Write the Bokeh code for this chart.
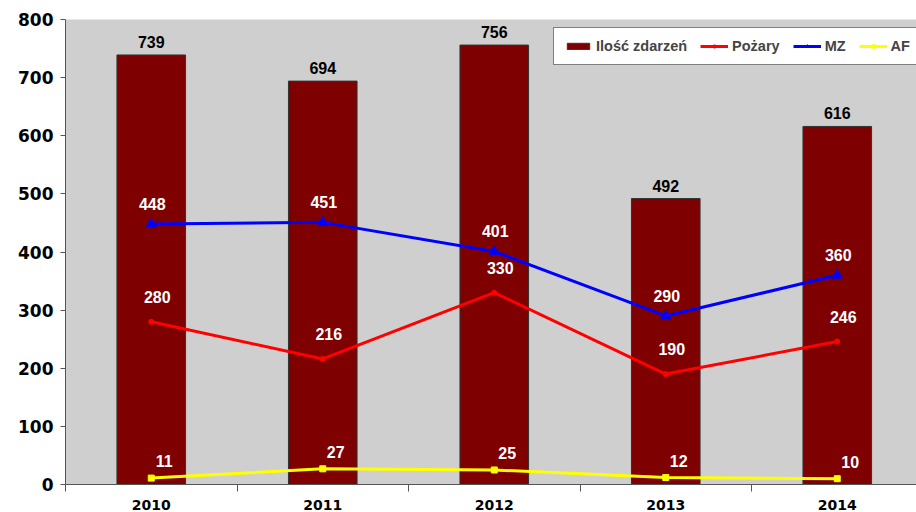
from bokeh.plotting import figure
from bokeh.models import Range1d, FixedTicker, Legend, LegendItem, ColumnDataSource
from bokeh.core.properties import value
from bokeh.embed import file_html
from bokeh.resources import INLINE

years = ["2010", "2011", "2012", "2013", "2014"]
zdarzenia = [739, 694, 756, 492, 616]
pozary = [280, 216, 330, 190, 246]
mz = [448, 451, 401, 290, 360]
af = [11, 27, 25, 12, 10]
y_ticks = [0, 100, 200, 300, 400, 500, 600, 700, 800]

xs = list(range(len(years)))

p = figure(width=916, height=512, x_range=Range1d(-0.5, 4.462), y_range=Range1d(0, 800),
           output_backend="svg", toolbar_location=None,
           min_border_left=65, min_border_right=0, min_border_top=19, min_border_bottom=26,
           background_fill_color="#CFCFCF", border_fill_color="white", outline_line_color=None)
p.grid.visible = False

# axes
p.yaxis.ticker = FixedTicker(ticks=y_ticks)
p.yaxis.major_label_text_font = "DejaVu Sans"
p.yaxis.major_label_text_font_style = "bold"
p.yaxis.major_label_text_font_size = "17px"
p.yaxis.major_label_text_color = "black"
p.yaxis.major_tick_out = 5
p.yaxis.major_tick_in = 0
p.yaxis.minor_tick_line_color = None
p.yaxis.major_label_standoff = 7
p.yaxis.axis_line_color = "#555555"
p.yaxis.major_tick_line_color = "#555555"

p.xaxis.ticker = FixedTicker(ticks=xs, minor_ticks=[-0.5, 0.5, 1.5, 2.5, 3.5])
p.xaxis.major_label_overrides = {i: y for i, y in enumerate(years)}
p.xaxis.major_label_text_font = "DejaVu Sans"
p.xaxis.major_label_text_font_style = "bold"
p.xaxis.major_label_text_font_size = "14px"
p.xaxis.major_label_text_color = "black"
p.xaxis.major_tick_out = 0
p.xaxis.major_tick_in = 0
p.xaxis.major_tick_line_color = None
p.xaxis.minor_tick_out = 7
p.xaxis.minor_tick_in = 0
p.xaxis.minor_tick_line_color = "#555555"
p.xaxis.major_label_standoff = 8
p.xaxis.axis_line_color = "#555555"

bars = p.vbar(x=xs, top=zdarzenia, width=0.4, fill_color="#7F0000", line_color="#333333", line_width=1)

l_poz = p.line(xs, pozary, line_color="#FF0000", line_width=3)
m_poz = p.scatter(xs, pozary, marker="circle", size=5, fill_color="#FF0000", line_color="#FF0000")
l_mz = p.line(xs, mz, line_color="#0000FF", line_width=3)
m_mz = p.scatter(xs, mz, marker="triangle", size=10, fill_color="#0000FF", line_color="#0000FF")
l_af = p.line(xs, af, line_color="#FFFF00", line_width=3)
m_af = p.scatter(xs, af, marker="square", size=6, fill_color="#FFFF00", line_color="#FFFF00")

lab_font = value("Liberation Sans")
src_bar = ColumnDataSource(dict(x=xs, y=zdarzenia, t=[str(v) for v in zdarzenia]))
p.text(x="x", y="y", text="t", source=src_bar, text_align="center", text_baseline="bottom",
       y_offset=-7, text_font=lab_font, text_font_style="bold", text_font_size="16px", text_color="black")

for vals, dx, dy in [(pozary, 6, -25), (mz, 1, -20), (af, 13, -17)]:
    src = ColumnDataSource(dict(x=xs, y=vals, t=[str(v) for v in vals]))
    p.text(x="x", y="y", text="t", source=src, text_align="center", text_baseline="middle",
           x_offset=dx, y_offset=dy, text_font=lab_font, text_font_style="bold",
           text_font_size="16px", text_color="white")

legend = Legend(items=[
    LegendItem(label="Ilość zdarzeń", renderers=[bars]),
    LegendItem(label="Pożary", renderers=[l_poz, m_poz]),
    LegendItem(label="MZ", renderers=[l_mz, m_mz]),
    LegendItem(label="AF", renderers=[l_af, m_af]),
], orientation="horizontal", location=(488, 419), glyph_width=28, glyph_height=8,
    label_standoff=4, spacing=13, padding=10, margin=0, label_height=14,
    label_text_font="Liberation Sans", label_text_font_style="bold", label_text_font_size="14.5px",
    border_line_color="black", border_line_width=1, background_fill_color="white", background_fill_alpha=1)
p.add_layout(legend)

open("out.html", "w").write(file_html(p, INLINE))
